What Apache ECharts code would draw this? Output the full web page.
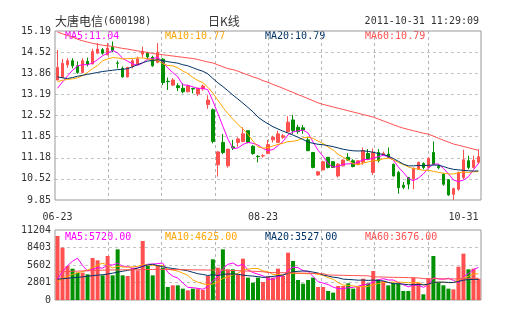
<!DOCTYPE html>
<html><head><meta charset="utf-8">
<script src="https://cdn.jsdelivr.net/npm/echarts@6/dist/echarts.min.js"></script>
<style>html,body{margin:0;padding:0;background:#fff}#c{width:505px;height:330px}</style>
</head><body><div id="c"></div>
<script>
// ---- data ----
const opens  = [13.64,13.72,14.12,14.25,14.09,13.88,14.23,14.15,14.49,14.60,14.44,14.68,14.18,14.01,13.74,14.07,14.14,14.46,14.49,14.36,
                14.20,14.30,13.60,13.48,13.46,13.38,13.27,13.37,13.20,13.36,12.87,12.70,10.96,11.67,10.93,11.53,11.67,11.70,12.04,11.55,
                11.23,11.24,11.32,11.75,11.67,11.83,12.01,12.38,12.15,12.13,11.75,11.35,10.64,10.80,11.20,11.06,10.61,10.93,11.20,11.09,
                10.98,11.04,11.32,10.72,11.35,11.28,11.30,10.98,10.72,10.32,10.56,10.51,10.82,11.00,10.88,11.35,10.91,10.67,10.49,10.03,
                10.19,10.56,11.09,10.88,11.04];
const closes = [14.04,14.17,14.25,14.09,13.88,14.25,14.14,14.54,14.62,14.49,14.65,14.57,14.17,13.74,14.04,14.25,14.31,14.54,14.37,14.09,
                14.51,13.56,13.59,13.64,13.40,13.27,13.46,13.36,13.38,13.45,13.01,11.70,11.37,11.35,11.46,11.50,11.78,11.94,11.67,11.32,
                11.22,11.25,11.60,11.83,11.94,11.88,12.31,12.04,12.01,12.06,11.41,10.88,10.74,11.06,10.88,10.88,10.98,11.11,11.11,10.91,
                11.09,11.41,11.14,11.35,11.09,11.32,11.20,10.61,10.24,10.25,10.35,10.85,11.04,10.88,11.17,10.98,10.87,10.35,10.01,10.21,
                10.72,11.12,10.88,11.11,11.22];
const lows   = [13.64,13.70,14.03,14.01,13.84,13.85,14.07,14.14,14.47,14.44,14.42,14.52,14.01,13.72,13.72,14.01,14.13,14.35,14.30,14.06,
                14.17,13.48,13.33,13.45,13.29,13.22,13.25,13.22,13.13,13.30,12.73,11.64,10.59,11.30,10.87,11.43,11.53,11.67,11.64,11.28,
                11.04,11.19,11.30,11.67,11.67,11.78,11.99,11.94,11.94,11.94,11.39,10.85,10.61,10.80,10.85,10.86,10.56,10.91,11.09,10.88,
                10.95,10.96,11.11,10.64,11.04,11.26,11.17,10.59,10.05,10.19,10.19,10.19,10.80,10.82,10.86,10.95,10.82,10.30,9.98,9.85,
                10.14,10.51,10.82,10.85,10.98];
const highs  = [14.59,14.31,14.33,14.33,14.23,14.33,14.35,14.63,14.81,14.65,14.81,14.86,14.25,14.07,14.06,14.30,14.38,14.70,14.53,14.41,
                14.81,14.33,13.72,13.70,13.54,13.54,13.50,13.40,13.40,13.50,13.16,12.74,11.40,11.94,11.46,11.75,11.83,12.15,12.05,11.58,
                11.27,11.30,11.75,11.88,12.04,11.94,12.50,12.54,12.23,12.22,11.83,11.37,10.77,11.09,11.20,11.06,11.02,11.14,11.33,11.14,
                11.10,11.51,11.46,11.48,11.46,11.38,11.51,11.00,10.77,10.42,10.58,10.88,11.06,11.04,11.20,11.70,10.98,10.69,10.51,10.24,
                10.75,11.44,11.25,11.25,11.45];
const volumes = [10244,8376,5442,5015,4375,4375,4108,6722,6349,3948,7043,3948,8110,3948,3841,5175,4749,9443,5442,3948,
                 5549,5175,2081,2348,2348,1814,1548,1814,1814,1601,3841,6509,5175,8110,4909,4909,4108,6616,3575,2774,
                 3575,2881,3800,3575,5015,3841,7576,6242,3201,2614,3201,3575,2081,2081,1441,1174,2241,2241,2668,1814,
                 2081,3414,2668,4642,3308,3041,2348,2668,2668,1441,1441,3575,2774,907,3468,7043,2774,2348,1814,1707,
                 5335,7416,4909,5015,3414];
// moving-average values before enough in-window days exist
const ma5Head  = [13.38,13.58,13.77,13.95];
const ma10Head = [13.59,13.63,13.66,13.68,13.71,13.78,13.88,14.00,14.10];
const ma20Head = [13.74,13.71,13.69,13.72,13.76,13.79,13.82,13.85,13.88,13.91,13.93,13.95,13.97,13.98,14.00,14.06,14.13,14.19,14.24];
const ma60 = [15.16,15.10,15.05,15.00,14.93,14.88,14.84,14.80,14.77,14.74,14.72,14.70,14.67,14.64,14.62,14.59,14.56,14.54,14.51,14.48,
              14.46,14.44,14.42,14.40,14.38,14.36,14.34,14.32,14.29,14.25,14.21,14.18,14.12,14.06,14.00,13.97,13.92,13.86,13.80,13.74,
              13.69,13.62,13.57,13.50,13.44,13.38,13.31,13.25,13.18,13.12,13.05,12.99,12.92,12.87,12.83,12.79,12.75,12.71,12.67,12.63,
              12.59,12.55,12.51,12.47,12.41,12.35,12.29,12.23,12.17,12.12,12.08,12.04,12.00,11.96,11.93,11.87,11.80,11.74,11.68,11.62,
              11.58,11.54,11.50,11.46,11.42];
const volMa5Head  = [3400,4500,5500,6200];
const volMa10Head = [2950,3400,3800,4100,4350,4550,4800,5200,5600];
const volMa20Head = [3330,3400,3480,3560,3620,3700,3800,3900,3980,4050,4150,4300,4450,4600,4750,4900,5100,5400,5600];
const volMa60 = [4500,4530,4560,4590,4620,4650,4680,4710,4740,4770,4800,4810,4820,4830,4840,4850,4860,4870,4880,4890,
                 4890,4890,4880,4870,4860,4850,4840,4830,4820,4810,4800,4790,4780,4770,4750,4720,4690,4660,4630,4600,
                 4560,4520,4400,4380,4370,4360,4350,4330,4310,4300,4280,4260,4230,4200,4000,3980,3960,3950,3930,3910,
                 3900,3880,3860,3700,3690,3670,3650,3630,3620,3600,3580,3560,3540,3420,3400,3420,3400,3390,3380,3370,
                 3400,3450,3460,3470,3480];
const priceTicks = ['9.85','10.52','11.18','11.85','12.52','13.19','13.86','14.52','15.19'];
const volTicks = ['0','2801','5602','8403','11204'];
const dateLabels = {0:'06-23', 41:'08-23', 84:'10-31'};
const titleName = '大唐电信', titleCode = '(600198)', chartKind = '日K线', stamp = '2011-10-31 11:29:09';
const priceLegend = ['MA5:11.04','MA10:10.77','MA20:10.79','MA60:10.79'];
const volLegend = ['MA5:5720.00','MA10:4625.00','MA20:3527.00','MA60:3676.00'];

// ---- styling ----
const UP = '#ff5050', DOWN = '#009000';
const MA_COLORS = ['#ff00ff', '#ffa500', '#003366', '#ff5050'];
const MONO = "'DejaVu Sans Mono', monospace";
const CJK = "'Noto Sans CJK SC', sans-serif";
const GL = '#c4c4c4';
const GLV = '#b4b4b4';
const DASH = [3, 3];
const PRICE_RECT = { left: 55, top: 31, width: 426, height: 169 };
const VOL_RECT = { left: 55, top: 230, width: 426, height: 70 };

function movingAvg(vals, n, head) {
  return vals.map((v, i) => {
    if (i < n - 1) return head[i];
    let s = 0;
    for (let k = i - n + 1; k <= i; k++) s += vals[k];
    return +(s / n).toFixed(3);
  });
}
const categories = opens.map((_, i) => String(i));
const candles = opens.map((o, i) => [o, closes[i], lows[i], highs[i]]);
const ma5 = movingAvg(closes, 5, ma5Head);
const ma10 = movingAvg(closes, 10, ma10Head);
const ma20 = movingAvg(closes, 20, ma20Head);
const vma5 = movingAvg(volumes, 5, volMa5Head);
const vma10 = movingAvg(volumes, 10, volMa10Head);
const vma20 = movingAvg(volumes, 20, volMa20Head);
const volBars = volumes.map((v, i) => ({
  value: v, itemStyle: { color: closes[i] >= opens[i] ? UP : DOWN }
}));

function lineSeries(data, color, xi, yi) {
  return { type: 'line', data, xAxisIndex: xi, yAxisIndex: yi, symbol: 'none', showSymbol: false,
           lineStyle: { width: 1, color }, itemStyle: { color }, z: 5, silent: true };
}
function legendTexts(list, y) {
  return list.map((t, k) => ({ type: 'text', left: 65 + 100 * k, top: y,
    style: { text: t, fill: MA_COLORS[k], font: '10px ' + MONO } }));
}
const hidden = { axisLine: { show: false }, axisTick: { show: false }, axisLabel: { show: false }, splitLine: { show: false } };
const dashed = { show: true, showMinLine: false, showMaxLine: false, lineStyle: { color: GL, type: DASH, width: 1 } };
// helper value axis spanning the time range in 8 equal parts; its split lines are the vertical dashed grid lines
const gridX = (gi) => ({ type: 'value', gridIndex: gi, min: 0, max: 8, interval: 1, position: 'bottom',
  axisLine: { show: false }, axisTick: { show: false },
  axisLabel: { show: true, formatter: () => '', color: 'rgba(0,0,0,0)' },
  splitLine: { show: true, showMinLine: false, showMaxLine: false, lineStyle: { color: GLV, type: DASH, width: 1 } } });

const chart = echarts.init(document.getElementById('c'), null, { renderer: 'canvas' });
chart.setOption({
  animation: false,
  backgroundColor: '#fff',
  grid: [
    Object.assign({ show: false }, PRICE_RECT),
    Object.assign({ show: false }, VOL_RECT),
    Object.assign({ show: true, borderColor: '#999', borderWidth: 1, backgroundColor: 'rgba(0,0,0,0)', z: 2 }, PRICE_RECT),
    Object.assign({ show: true, borderColor: '#999', borderWidth: 1, backgroundColor: 'rgba(0,0,0,0)', z: 2 }, VOL_RECT)
  ],
  xAxis: [
    Object.assign({}, hidden, { type: 'category', gridIndex: 0, data: categories, boundaryGap: true,
      axisLabel: { interval: (i) => dateLabels[i] !== undefined, formatter: (v, i) => dateLabels[i] || '',
                   color: '#333', fontFamily: MONO, fontSize: 10, margin: 12, alignMaxLabel: 'right' } }),
    Object.assign({}, hidden, { type: 'category', gridIndex: 1, data: categories, boundaryGap: true }),
    gridX(2),
    gridX(3)
  ],
  yAxis: [
    Object.assign({}, hidden, { type: 'value', gridIndex: 0, min: 9.85, max: 15.19 }),
    Object.assign({}, hidden, { type: 'value', gridIndex: 1, min: 0, max: 11204 }),
    { type: 'value', gridIndex: 2, min: 0, max: 8, interval: 1,
      axisLine: { show: false }, axisTick: { show: false },
      axisLabel: { formatter: (v) => priceTicks[Math.round(v)], color: '#333', fontFamily: MONO, fontSize: 10, margin: 4 },
      splitLine: dashed },
    { type: 'value', gridIndex: 3, min: 0, max: 11204, interval: 2801,
      axisLine: { show: false }, axisTick: { show: false },
      axisLabel: { formatter: (v) => volTicks[Math.round(v / 2801)], color: '#333', fontFamily: MONO, fontSize: 10, margin: 4 },
      splitLine: dashed }
  ],
  series: [
    { type: 'candlestick', data: candles, xAxisIndex: 0, yAxisIndex: 0, barWidth: 3, z: 3,
      itemStyle: { color: UP, color0: DOWN, borderColor: UP, borderColor0: DOWN, borderWidth: 1 } },
    lineSeries(ma5, MA_COLORS[0], 0, 0),
    lineSeries(ma10, MA_COLORS[1], 0, 0),
    lineSeries(ma20, MA_COLORS[2], 0, 0),
    lineSeries(ma60, MA_COLORS[3], 0, 0),
    { type: 'bar', data: volBars, xAxisIndex: 1, yAxisIndex: 1, barWidth: 4, z: 3 },
    lineSeries(vma5, MA_COLORS[0], 1, 1),
    lineSeries(vma10, MA_COLORS[1], 1, 1),
    lineSeries(vma20, MA_COLORS[2], 1, 1),
    lineSeries(volMa60, MA_COLORS[3], 1, 1),
    { type: 'line', data: [], xAxisIndex: 2, yAxisIndex: 2, silent: true, z: 0 },
    { type: 'line', data: [], xAxisIndex: 3, yAxisIndex: 3, silent: true, z: 0 }
  ],
  graphic: [
    { type: 'text', left: 55, top: 15, style: {
        text: '{c|' + titleName + '}{m|' + titleCode + '}',
        rich: { c: { font: '12px ' + CJK, fill: '#333' }, m: { font: '10px ' + MONO, fill: '#333' } } } },
    { type: 'text', left: 208, top: 15, style: { text: chartKind, font: '12px ' + CJK, fill: '#333' } },
    { type: 'text', right: 26, top: 16, style: { text: stamp, font: '10px ' + MONO, fill: '#333' } }
  ].concat(legendTexts(priceLegend, 31), legendTexts(volLegend, 232))
});
</script>
</body></html>
